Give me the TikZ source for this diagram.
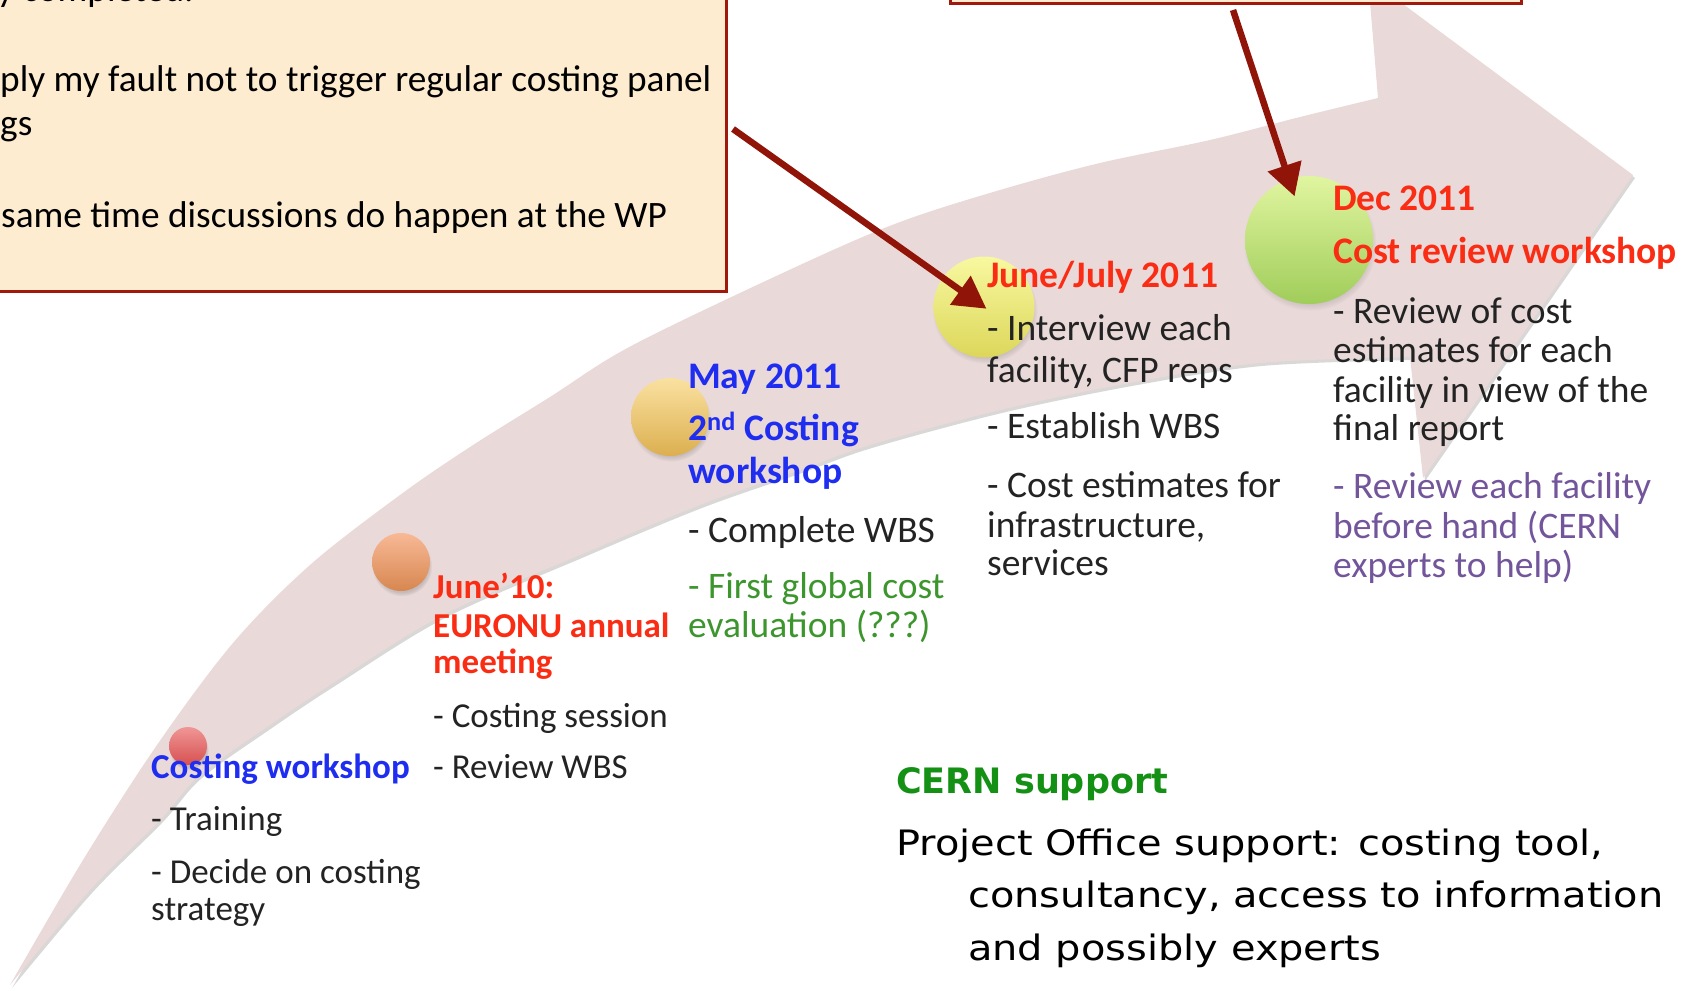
\documentclass[tikz,border=0pt]{standalone}
\usepackage{fontspec}
\setmainfont{Carlito}
\newfontfamily\comicfont[FakeStretch=1.14]{DejaVu Sans}
\newfontfamily\comicboldfont{DejaVu Sans}
\usetikzlibrary{arrows.meta,shadows}
\definecolor{bandfill}{RGB}{234,217,217}
\definecolor{bandshadow}{RGB}{150,140,140}
\definecolor{boxfill}{RGB}{254,236,208}
\definecolor{boxline}{RGB}{160,25,15}
\definecolor{arrowred}{RGB}{145,20,8}
\definecolor{tblue}{RGB}{30,45,240}
\definecolor{tred}{RGB}{250,45,20}
\definecolor{tgreen}{RGB}{60,150,45}
\definecolor{tpurple}{RGB}{115,85,155}
\definecolor{tgray}{RGB}{35,35,35}
\definecolor{cerngreen}{RGB}{20,145,20}
\definecolor{redtop}{RGB}{240,150,150}
\definecolor{redbot}{RGB}{215,80,80}
\definecolor{orgtop}{RGB}{248,185,150}
\definecolor{orgbot}{RGB}{215,135,80}
\definecolor{maytop}{RGB}{250,225,160}
\definecolor{maybot}{RGB}{220,175,80}
\definecolor{yeltop}{RGB}{248,248,160}
\definecolor{yelbot}{RGB}{220,215,90}
\definecolor{grntop}{RGB}{225,245,160}
\definecolor{grnbot}{RGB}{160,205,90}
\newcommand{\bandoutline}{plot[smooth,tension=0.55] coordinates {(10,985) (83,860) (157,745) (233,643) (310,565) (400,495) (470,447) (550,397) (633,345) (800,265) (900,222) (1000,190) (1100,163) (1210,140) (1300,117) (1378,98)}
  -- (1368,-22) -- (1633,175) -- (1423,478) -- (1410,357)
  -- plot[smooth,tension=0.55] coordinates {(1410,357) (1260,363) (1130,383) (1000,410) (870,445) (800,470) (700,505) (580,555) (443,615) (333,683) (270,725) (200,775) (160,820) (90,890) (10,985)} -- cycle}
\begin{document}
\begin{tikzpicture}[x=1pt,y=-1pt,
  note/.style={draw=boxline, line width=2.8pt, fill=boxfill, inner sep=0pt},
  notetxt/.style={anchor=base west, inner sep=0pt, font=\fontsize{37.3}{44}\selectfont, text=black},
  dot/.style={circle, inner sep=0pt, shading=axis, circular drop shadow={shadow xshift=1pt, shadow yshift=-4pt, shadow scale=1.04, opacity=0.35}},
  hd/.style={anchor=base west, inner sep=0pt, font=\fontsize{37.5}{44}\selectfont\bfseries},
  tx/.style={anchor=base west, inner sep=0pt, font=\fontsize{37.5}{44}\selectfont, text=tgray},
  hdsmall/.style={hd, font=\fontsize{35}{42}\selectfont\bfseries},
  txsmall/.style={tx, font=\fontsize{35}{42}\selectfont},
  comictext/.style={anchor=base west, inner sep=0pt, font=\comicfont\fontsize{35}{52}\selectfont, text=black},
  comichead/.style={comictext, font=\comicboldfont\fontsize{35}{52}\selectfont\bfseries, text=cerngreen},
  callout/.style={draw=arrowred, line width=6.5pt, -{Triangle[length=32pt,width=34pt]}}]
\useasboundingbox (0,0) rectangle (1696,990);
\clip (0,0) rectangle (1696,990);
% big curved arrow
\fill[bandshadow, opacity=0.35, shift={(2,3)}] \bandoutline;
\fill[bandfill] \bandoutline;
% circles
\node[dot, minimum size=38pt, top color=redtop, bottom color=redbot] (c1) at (188,746) {};
\node[dot, minimum size=58pt, top color=orgtop, bottom color=orgbot] (c2) at (401,562) {};
\node[dot, minimum size=78pt, top color=maytop, bottom color=maybot] (c3) at (670,417) {};
\node[dot, minimum size=101pt, top color=yeltop, bottom color=yelbot] (c4) at (984,307) {};
\node[dot, minimum size=128pt, top color=grntop, bottom color=grnbot] (c5) at (1309,240) {};
% note boxes
\node[note, minimum width=733pt, minimum height=353pt, anchor=south east] (box1) at (728,293) {};
\node[note, minimum width=571pt, minimum height=65pt, anchor=south west] (box2) at (949,5) {};
\node[notetxt] (n1) at (-3,2) {y completed.};
\node[notetxt] (n2) at (0,91) {ply my fault not to trigger regular costing panel};
\node[notetxt] (n3) at (0,135) {gs};
\node[notetxt] (n4) at (1,227) {same time discussions do happen at the WP};
% arrows
\coordinate (a1s) at (733,129);
\coordinate (a2s) at (1233,10);
\draw[callout, shorten >=-3pt] (a1s) -- (c4.center);
\draw[callout, shorten >=46pt] (a2s) -- (c5.center);
% Costing workshop
\node[hdsmall, text=tblue] (t1a) at (151,778) {Costing workshop};
\node[txsmall] (t1b) at (151,830) {- Training};
\node[txsmall] (t1c) at (151,883) {- Decide on costing};
\node[txsmall] (t1d) at (151,920) {strategy};
% June'10
\node[hdsmall, text=tred] (t2a) at (433,598) {June’10:};
\node[hdsmall, text=tred] (t2b) at (433,637) {EURONU annual};
\node[hdsmall, text=tred] (t2c) at (433,673) {meeting};
\node[txsmall] (t2d) at (433,727) {- Costing session};
\node[txsmall] (t2e) at (433,778) {- Review WBS};
% May 2011
\node[hd, text=tblue] (t3a) at (688,388) {May 2011};
\node[hd, text=tblue] (t3b) at (688,440) {2\textsuperscript{nd} Costing};
\node[hd, text=tblue] (t3c) at (688,483) {workshop};
\node[tx] (t3d) at (688,542) {- Complete WBS};
\node[tx, text=tgreen] (t3e) at (688,598) {- First global cost};
\node[tx, text=tgreen] (t3f) at (688,637) {evaluation (???)};
% June/July 2011
\node[hd, text=tred] (t4a) at (987,287) {June/July 2011};
\node[tx] (t4b) at (987,340) {- Interview each};
\node[tx] (t4c) at (987,382) {facility, CFP reps};
\node[tx] (t4d) at (987,438) {- Establish WBS};
\node[tx] (t4e) at (987,497) {- Cost estimates for};
\node[tx] (t4f) at (987,537) {infrastructure,};
\node[tx] (t4g) at (987,575) {services};
% Dec 2011
\node[hd, text=tred] (t5a) at (1333,210) {Dec 2011};
\node[hd, text=tred] (t5b) at (1333,263) {Cost review workshop};
\node[tx] (t5c) at (1333,323) {- Review of cost};
\node[tx] (t5d) at (1333,362) {estimates for each};
\node[tx] (t5e) at (1333,402) {facility in view of the};
\node[tx] (t5f) at (1333,440) {final report};
\node[tx, text=tpurple] (t5g) at (1333,498) {- Review each facility};
\node[tx, text=tpurple] (t5h) at (1333,538) {before hand (CERN};
\node[tx, text=tpurple] (t5i) at (1333,577) {experts to help)};
% CERN support
\node[comichead] (s1) at (896,793) {CERN support};
\node[comictext] (s2) at (896,855) {Project Office support: costing tool,};
\node[comictext] (s3) at (968,907) {consultancy, access to information};
\node[comictext] (s4) at (968,960) {and possibly experts};
\end{tikzpicture}
\end{document}
